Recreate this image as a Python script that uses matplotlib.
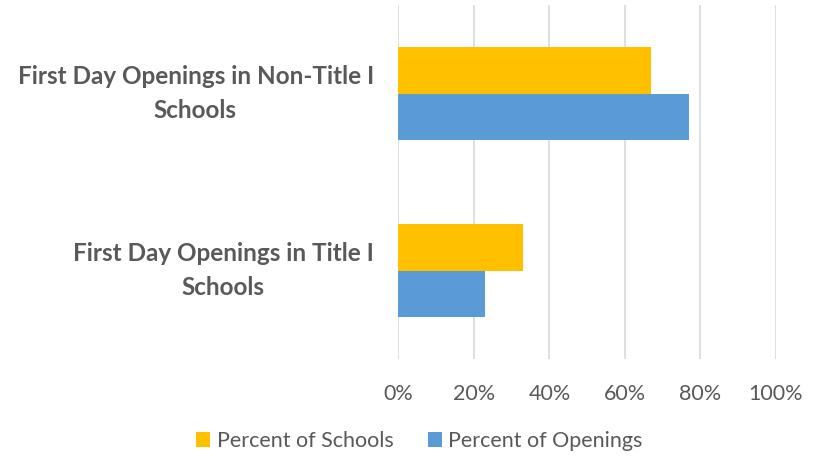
"""Horizontal grouped bars: share of schools vs share of first-day openings."""

import matplotlib
matplotlib.use("Agg")
import matplotlib.pyplot as plt
from matplotlib.patches import Patch
from matplotlib.transforms import blended_transform_factory

# Categories from bottom to top of the chart
categories = ["First Day Openings in Title I Schools",
              "First Day Openings in Non-Title I Schools"]
label_lines = [("First Day Openings in Title I", "Schools"),
               ("First Day Openings in Non-Title I", "Schools")]
pct_schools = [33, 67]
pct_openings = [23, 77]
series_names = ["Percent of Schools", "Percent of Openings"]
xticks = [0, 20, 40, 60, 80, 100]

YELLOW = "#FFC000"
BLUE = "#5B9BD5"
GRID = "#D9D9D9"
TEXT = "#595959"

plt.rcParams["font.family"] = ["Lato", "DejaVu Sans"]

fig = plt.figure(figsize=(8.21, 4.57), dpi=100)
ax = fig.add_axes([0.4852, 0.2144, 0.4600, 0.7746])

bar_h = 0.263
ypos = list(range(len(categories)))
ax.barh([y + bar_h / 2 for y in ypos], pct_schools, height=bar_h, color=YELLOW, zorder=2)
ax.barh([y - bar_h / 2 for y in ypos], pct_openings, height=bar_h, color=BLUE, zorder=2)

ax.set_xlim(0, 100)
ax.set_ylim(-0.5, len(categories) - 0.5)
ax.set_xticks(xticks)
ax.set_xticklabels([f"{t}%" for t in xticks], fontsize=15.5, color=TEXT)
ax.set_yticks([])
ax.tick_params(axis="x", length=0, pad=18)
for s in ax.spines.values():
    s.set_visible(False)
ax.grid(axis="x", color=GRID, linewidth=1.2, zorder=0)

# Wrapped category labels (first line right-aligned, second centred)
trans = blended_transform_factory(fig.transFigure, ax.transData)
second_x = [222.5 / 821, 195 / 821]
for y, (l1, l2), sx in zip(ypos, label_lines, second_x):
    ax.text(374 / 821, y + 0.097, l1, transform=trans, ha="right", va="center",
            fontsize=17.5, fontweight="bold", color=TEXT)
    ax.text(sx, y - 0.097, l2, transform=trans, ha="center", va="center",
            fontsize=17.5, fontweight="bold", color=TEXT)

handles = [Patch(facecolor=YELLOW), Patch(facecolor=BLUE)]
fig.legend(handles, series_names, loc="center", bbox_to_anchor=(0.511, 0.035),
           ncol=2, frameon=False, fontsize=15.5, labelcolor=TEXT,
           handlelength=0.65, handleheight=0.65, handletextpad=0.3, columnspacing=1.6)

fig.savefig("out.png", dpi=100)
